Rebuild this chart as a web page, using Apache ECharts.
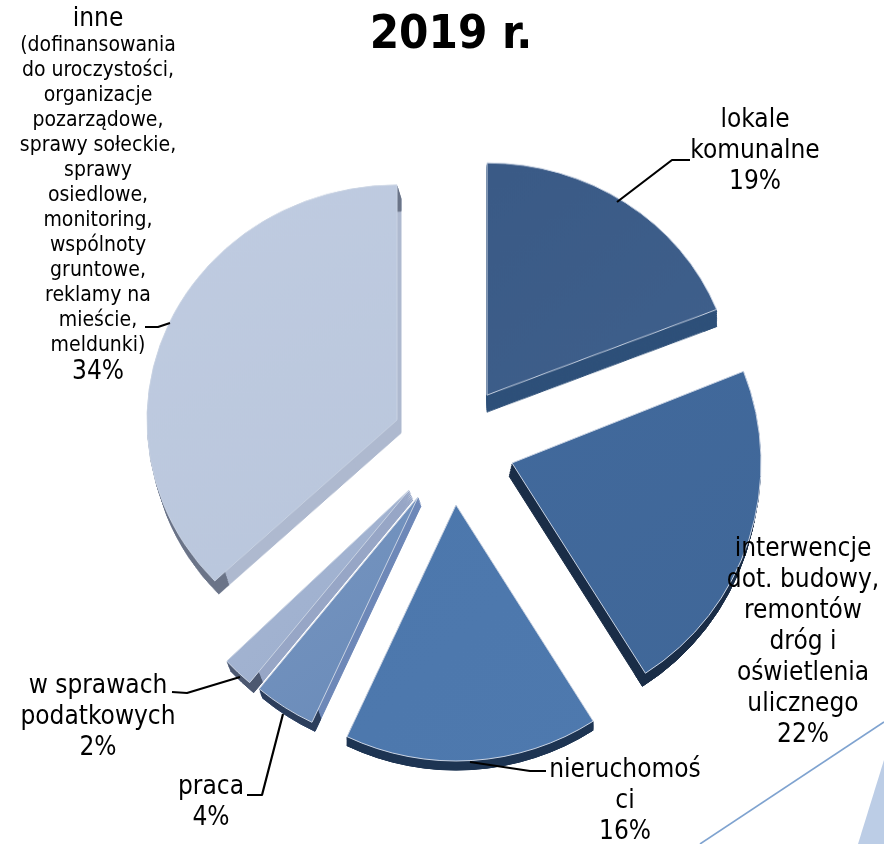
<!DOCTYPE html>
<html>
<head>
<meta charset="utf-8">
<title>2019 r.</title>
<script src="https://cdn.jsdelivr.net/npm/echarts@6/dist/echarts.min.js"></script>
<style>
  html, body { margin: 0; padding: 0; background: #fff; }
  #wrap { position: relative; width: 884px; height: 844px; overflow: hidden; }
  #wrap div.layer { position: absolute; left: 0; top: 0; width: 884px; height: 844px; }
  /* the two far wedges are tilted away from the viewer */
  #farChart { transform: scaleY(0.94); transform-origin: 0 0; }
</style>
</head>
<body>
<div id="wrap">
  <div id="farChart" class="layer"></div>
  <div id="nearChart" class="layer"></div>
</div>
<script>
// clockwise from 12 o'clock
const categories = ['lokale komunalne', 'interwencje', 'nieruchomości', 'praca', 'w sprawach podatkowych', 'inne']
// printed percentages sum to 97, the big wedge is drawn with the remainder (37 of the circle)
const sliceValues = [19, 22, 16, 4, 2, 37]
const percentLabels = ['19%', '22%', '16%', '4%', '2%', '34%']

const topColors = [
  ['#3a5a86', '#3f608c'], ['#41699c', '#406798'], ['#4c77ac', '#4e79ae'],
  ['#7695c0', '#6a8bb9'], ['#a6b6d3', '#9caecd'], ['#c0cce1', '#b9c6dc']
]
const sideColors = ['#2e5079', '#1a2d47', '#1e3553', '#6e88b8', '#97a6c6', '#aeb9cf']
const rimColors = ['#2e5079', '#1a2d47', '#1e3553', '#2c3e5c', '#4c5870', '#6b7488']

// wedge tip on screen, radius, and how far the 3d wall drops
const farRatio = 0.94
const wedges = [
  { apex: [487, 395], r: 247, depth: [0, 17], far: true },
  { apex: [512, 463], r: 249, depth: [-3, 13] },
  { apex: [456, 505], r: 256, depth: [0, 9] },
  { apex: [418, 497], r: 249, depth: [3, 9] },
  { apex: [409, 490], r: 250, depth: [4, 10] },
  { apex: [397, 420], r: 250, depth: [4, 13], far: true }
]
const STEPS = 8

function wedgeSeries(i, dx, dy, r0, color, border, z) {
  const w = wedges[i]
  const ratio = w.far ? farRatio : 1
  const before = sliceValues.slice(0, i).reduce((a, b) => a + b, 0)
  return {
    type: 'pie',
    silent: true,
    animation: false,
    center: [w.apex[0] + dx, (w.apex[1] + dy) / ratio],
    radius: [r0, w.r],
    startAngle: 90 - before * 3.6,
    clockwise: true,
    avoidLabelOverlap: false,
    label: { show: false },
    labelLine: { show: false },
    z: z,
    data: [
      {
        name: categories[i],
        value: sliceValues[i],
        itemStyle: { color: color, borderColor: border, borderWidth: 1 }
      },
      { name: '', value: 100 - sliceValues[i], itemStyle: { color: 'transparent', borderWidth: 0 } }
    ]
  }
}

function buildSeries(i) {
  const w = wedges[i]
  const list = []
  for (let s = STEPS; s >= 1; s--) {
    const dx = w.depth[0] * s / STEPS
    const dy = w.depth[1] * s / STEPS
    list.push(wedgeSeries(i, dx, dy, 0, sideColors[i], sideColors[i], 2))
    list.push(wedgeSeries(i, dx, dy, w.r - 14, rimColors[i], rimColors[i], 3))
  }
  const top = new echarts.graphic.LinearGradient(0, 0, 1, 1, [
    { offset: 0, color: topColors[i][0] },
    { offset: 1, color: topColors[i][1] }
  ])
  list.push(wedgeSeries(i, 0, 0, 0, top, '#c9d3e3', 4))
  return list
}

function textEl(text, x, y, size, lineHeight, weight) {
  return {
    type: 'text',
    z: 20,
    style: {
      text: text,
      x: x,
      y: y,
      align: 'center',
      verticalAlign: 'middle',
      fontFamily: 'DejaVu Sans Condensed, DejaVu Sans, sans-serif',
      fontSize: size,
      fontWeight: weight || 'normal',
      lineHeight: lineHeight,
      fill: '#000'
    }
  }
}

function leader(points) {
  return {
    type: 'polyline',
    z: 19,
    shape: { points: points },
    style: { stroke: '#000', lineWidth: 2.2, fill: 'none', lineJoin: 'round' }
  }
}

const graphics = [
  {
    type: 'polygon',
    z: 1,
    shape: { points: [[884, 760], [884, 844], [858, 844]] },
    style: { fill: '#bccde6' }
  },
  {
    type: 'line',
    z: 1,
    shape: { x1: 700, y1: 844, x2: 884, y2: 722 },
    style: { stroke: '#7fa3d0', lineWidth: 1.6 }
  },
  textEl('2019 r.', 451, 36, 47, 54, 'bold'),
  textEl('lokale\nkomunalne\n' + percentLabels[0], 755, 151, 26, 31),
  textEl('interwencje\ndot. budowy,\nremontów\ndróg i\noświetlenia\nulicznego\n' + percentLabels[1], 803, 642, 26, 31),
  textEl('nieruchomoś\nci\n' + percentLabels[2], 625, 801, 26, 31),
  textEl('praca\n' + percentLabels[3], 211, 803, 26, 31),
  textEl('w sprawach\npodatkowych\n' + percentLabels[4], 98, 717, 26, 31),
  textEl('inne', 98, 19, 26, 31),
  textEl('(dofinansowania\ndo uroczystości,\norganizacje\npozarządowe,\nsprawy sołeckie,\nsprawy\nosiedlowe,\nmonitoring,\nwspólnoty\ngruntowe,\nreklamy na\nmieście,\nmeldunki)', 98, 196, 21, 25),
  textEl(percentLabels[5], 98, 372, 26, 31),
  leader([[617, 202], [672, 160], [690, 160]]),
  leader([[145, 327], [158, 327], [170, 323]]),
  leader([[172, 692], [187, 693], [240, 677]]),
  leader([[247, 795], [262, 795], [283, 714]]),
  leader([[470, 762], [530, 771], [546, 771]])
]

const farChart = echarts.init(document.getElementById('farChart'))
farChart.setOption({
  animation: false,
  series: [0, 5].flatMap(buildSeries)
})

const nearChart = echarts.init(document.getElementById('nearChart'))
nearChart.setOption({
  animation: false,
  backgroundColor: 'transparent',
  graphic: graphics,
  series: [1, 2, 3, 4].flatMap(buildSeries)
})
</script>
</body>
</html>
